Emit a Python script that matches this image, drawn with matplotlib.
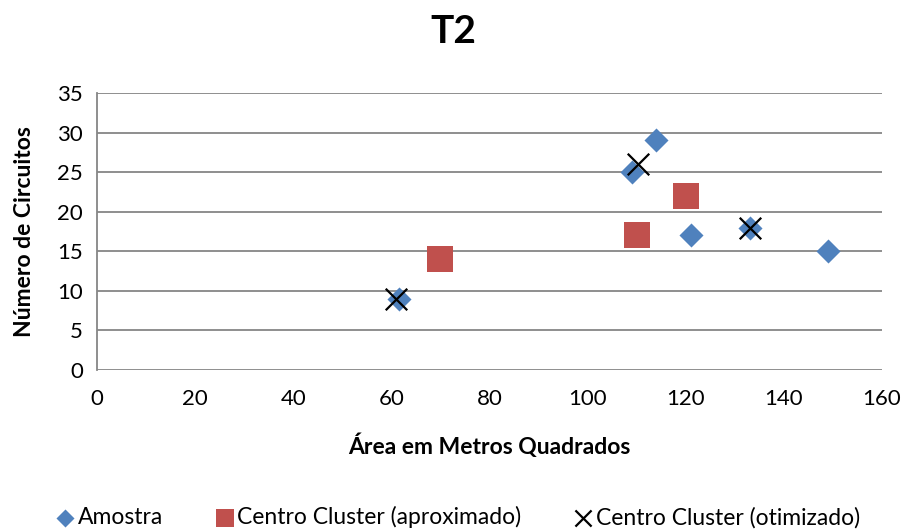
import matplotlib
matplotlib.use("Agg")
from matplotlib import pyplot as plt

plt.rcParams["font.family"] = ["Lato", "DejaVu Sans"]

# sample points
amostra_x = [61.5, 109, 114, 121, 133, 149]
amostra_y = [9, 25, 29, 17, 18, 15]

# approximate cluster centres
aprox_x = [70, 110, 120]
aprox_y = [14, 17, 22]

# optimised cluster centres
otim_x = [61, 110.3, 133]
otim_y = [9, 26, 18]

grid_col = "#868686"

fig = plt.figure(figsize=(9.07, 5.31), dpi=100)
ax = fig.add_axes([97 / 907, 1 - 370 / 531, 785 / 907, 277 / 531])

ax.scatter(amostra_x, amostra_y, marker="D", s=150, color="#4f81bd", zorder=3,
           linewidths=0, label="Amostra")
ax.scatter(aprox_x, aprox_y, marker="s", s=330, color="#c0504d", zorder=3,
           linewidths=0, label="Centro Cluster (aproximado)")
ax.scatter(otim_x, otim_y, marker="x", s=240, color="black", zorder=4,
           linewidths=1.6, label="Centro Cluster (otimizado)")

ax.set_xlim(0, 160)
ax.set_ylim(0, 35)
ax.set_xticks(range(0, 161, 20))
ax.set_yticks(range(0, 36, 5))
ax.grid(axis="y", color=grid_col, linewidth=1.3)
ax.set_axisbelow(True)
for side in ("top", "right", "bottom"):
    ax.spines[side].set_visible(False)
ax.spines["left"].set_color(grid_col)
ax.spines["left"].set_linewidth(1.3)
ax.tick_params(axis="x", length=0, labelsize=16, pad=14)
ax.tick_params(axis="y", length=0, labelsize=16, pad=10)

ax.set_xlabel("Área em Metros Quadrados", fontsize=16.5, fontweight="bold", labelpad=17)
ax.set_ylabel("Número de Circuitos", fontsize=16.5, fontweight="bold", labelpad=16)
fig.text(0.5, 0.94, "T2", ha="center", va="center", fontsize=28, fontweight="bold")

fig.legend(loc="center", bbox_to_anchor=(0.505, 0.026), ncol=3, frameon=False,
           fontsize=16.5, handletextpad=0.15, handlelength=0.8,
           columnspacing=2.3, markerscale=0.75)

fig.savefig("out.png", dpi=100)
